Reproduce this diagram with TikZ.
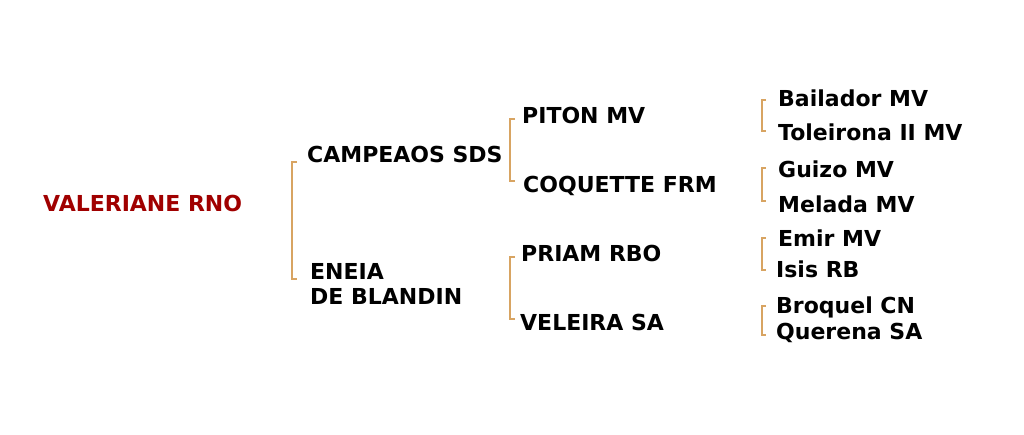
\documentclass[tikz,border=0pt]{standalone}
\usepackage{fontspec}
\setmainfont{DejaVu Sans}
\definecolor{bracketc}{HTML}{D8A462}
\definecolor{rootc}{HTML}{A00000}
\begin{document}
\begin{tikzpicture}[x=1pt,y=-1pt,
  pname/.style={anchor=base west,inner sep=0pt,font=\fontsize{22}{25}\selectfont\bfseries,text=black},
  proot/.style={pname,text=rootc},
  brk/.style={draw=bracketc,line width=1.9pt}]
\useasboundingbox (0,0) rectangle (1024,435);
\node[proot] (val) at (43,212) {VALERIANE RNO};
\node[pname] (cam) at (307,163) {CAMPEAOS SDS};
\node[pname,align=left] (ene) at (310,305) {ENEIA\\DE BLANDIN};
\node[pname] (pit) at (522,124) {PITON MV};
\node[pname] (coq) at (523,193) {COQUETTE FRM};
\node[pname] (pri) at (521,262) {PRIAM RBO};
\node[pname] (vel) at (520,330) {VELEIRA SA};
\node[pname] (bai) at (778,107) {Bailador MV};
\node[pname] (tol) at (778,141) {Toleirona II MV};
\node[pname] (gui) at (778,178) {Guizo MV};
\node[pname] (mel) at (778,213) {Melada MV};
\node[pname] (emi) at (778,247) {Emir MV};
\node[pname] (isi) at (776,278) {Isis RB};
\node[pname] (bro) at (776,313) {Broquel CN};
\node[pname] (que) at (776,339) {Querena SA};
% brackets
\draw[brk] (297,162) -- (292,162) -- (292,279) -- (297,279);
\draw[brk] (515,119) -- (510,119) -- (510,181) -- (515,181);
\draw[brk] (515,257) -- (510,257) -- (510,319) -- (515,319);
\draw[brk] (766,100) -- (762,100) -- (762,131) -- (766,131);
\draw[brk] (766,168) -- (762,168) -- (762,201) -- (766,201);
\draw[brk] (766,238) -- (762,238) -- (762,270) -- (766,270);
\draw[brk] (766,306) -- (762,306) -- (762,335) -- (766,335);
\end{tikzpicture}
\end{document}
